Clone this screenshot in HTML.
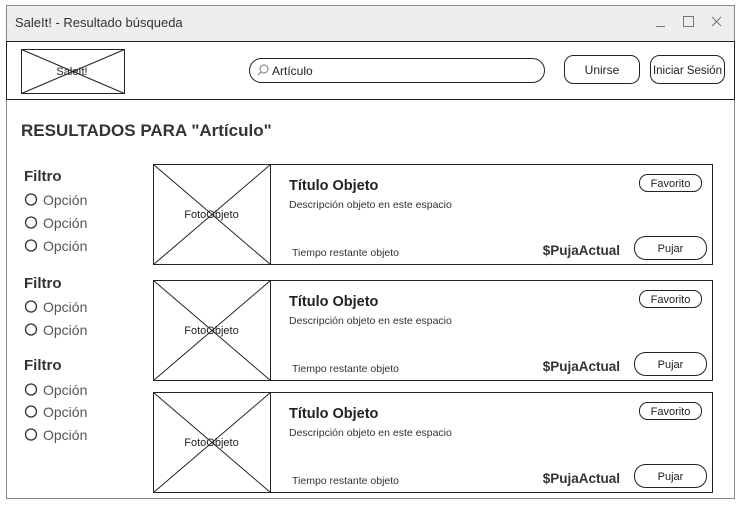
<!DOCTYPE html>
<html><head><meta charset="utf-8"><style>
html,body{margin:0;padding:0;background:#fff;}
svg{display:block;font-family:"Liberation Sans",sans-serif;}
</style></head><body>
<svg width="740" height="505" viewBox="0 0 740 505" xmlns="http://www.w3.org/2000/svg">
<rect x="0" y="0" width="740" height="505" fill="#fff"/>
<!-- window -->
<rect x="6.5" y="5.5" width="728" height="493" fill="#fff" stroke="#888" stroke-width="1"/>
<rect x="7" y="6" width="727" height="35" fill="#eeeeee"/>
<text x="15" y="27" font-size="13" fill="#333">SaleIt! - Resultado búsqueda</text>
<line x1="656" y1="26.5" x2="665" y2="26.5" stroke="#777" stroke-width="1"/>
<rect x="683.5" y="16.5" width="10" height="10" fill="none" stroke="#777"/>
<path d="M712 17 L721 26 M721 17 L712 26" stroke="#777" stroke-width="1"/>
<!-- header -->
<rect x="6.5" y="41.5" width="728" height="58" fill="#fff" stroke="#222"/>
<rect x="21.5" y="49.5" width="103" height="44" fill="#fff" stroke="#222"/>
<path d="M21.5 49.5 L124.5 93.5 M124.5 49.5 L21.5 93.5" stroke="#222" stroke-width="1"/>
<text x="72" y="75" font-size="11" fill="#222" text-anchor="middle">SaleIt!</text>
<rect x="249.5" y="58.5" width="295" height="24" rx="12" fill="#fff" stroke="#222"/>
<circle cx="264" cy="69" r="4" fill="none" stroke="#777"/>
<line x1="261" y1="72" x2="258" y2="75" stroke="#777"/>
<text x="272" y="75" font-size="12" fill="#222">Artículo</text>
<rect x="564.5" y="55.5" width="75" height="28" rx="9" fill="#fff" stroke="#222"/>
<text x="602" y="74" font-size="12" fill="#222" text-anchor="middle">Unirse</text>
<rect x="650.5" y="55.5" width="74" height="28" rx="9" fill="#fff" stroke="#222"/>
<text x="687.5" y="74" font-size="11.5" fill="#222" text-anchor="middle">Iniciar Sesión</text>
<!-- heading -->
<text x="21" y="136" font-size="17" font-weight="bold" fill="#333">RESULTADOS PARA "Artículo"</text>
<!-- filters -->
<g font-size="14" fill="#555">
<text x="24" y="181" font-weight="bold" font-size="15" fill="#333">Filtro</text>
<circle cx="31" cy="199.5" r="5.5" fill="none" stroke="#333" stroke-width="1.3"/><text x="43" y="205">Opción</text>
<circle cx="31" cy="222.5" r="5.5" fill="none" stroke="#333" stroke-width="1.3"/><text x="43" y="228">Opción</text>
<circle cx="31" cy="245.5" r="5.5" fill="none" stroke="#333" stroke-width="1.3"/><text x="43" y="251">Opción</text>
<text x="24" y="288" font-weight="bold" font-size="15" fill="#333">Filtro</text>
<circle cx="31" cy="306.5" r="5.5" fill="none" stroke="#333" stroke-width="1.3"/><text x="43" y="312">Opción</text>
<circle cx="31" cy="329.5" r="5.5" fill="none" stroke="#333" stroke-width="1.3"/><text x="43" y="335">Opción</text>
<text x="24" y="370" font-weight="bold" font-size="15" fill="#333">Filtro</text>
<circle cx="31" cy="389.5" r="5.5" fill="none" stroke="#333" stroke-width="1.3"/><text x="43" y="395">Opción</text>
<circle cx="31" cy="411.5" r="5.5" fill="none" stroke="#333" stroke-width="1.3"/><text x="43" y="417">Opción</text>
<circle cx="31" cy="434.5" r="5.5" fill="none" stroke="#333" stroke-width="1.3"/><text x="43" y="440">Opción</text>
</g>
<!-- cards -->
<defs>
<g id="card">
<rect x="153.5" y="0.5" width="559" height="100" fill="#fff" stroke="#222"/>
<line x1="270.5" y1="0.5" x2="270.5" y2="100.5" stroke="#222"/>
<path d="M153.5 0.5 L270.5 100.5 M270.5 0.5 L153.5 100.5" stroke="#222"/>
<text x="211.5" y="54" font-size="11" fill="#222" text-anchor="middle">FotoObjeto</text>
<text x="289" y="26" font-size="14.5" font-weight="bold" fill="#222">Título Objeto</text>
<text x="289" y="44" font-size="10.5" fill="#333">Descripción objeto en este espacio</text>
<text x="292" y="92" font-size="10.5" fill="#333">Tiempo restante objeto</text>
<text x="620" y="91" font-size="13.5" font-weight="bold" fill="#333" text-anchor="end">$PujaActual</text>
<rect x="639.5" y="10.5" width="62" height="17" rx="8" fill="#fff" stroke="#222"/>
<text x="670.5" y="23" font-size="11" fill="#222" text-anchor="middle">Favorito</text>
<rect x="634.5" y="72.5" width="72" height="23" rx="11" fill="#fff" stroke="#222"/>
<text x="670.5" y="88" font-size="11" fill="#222" text-anchor="middle">Pujar</text>
</g>
</defs>
<use href="#card" transform="translate(0,164)"/>
<use href="#card" transform="translate(0,280)"/>
<use href="#card" transform="translate(0,392)"/>
</svg>
</body></html>
